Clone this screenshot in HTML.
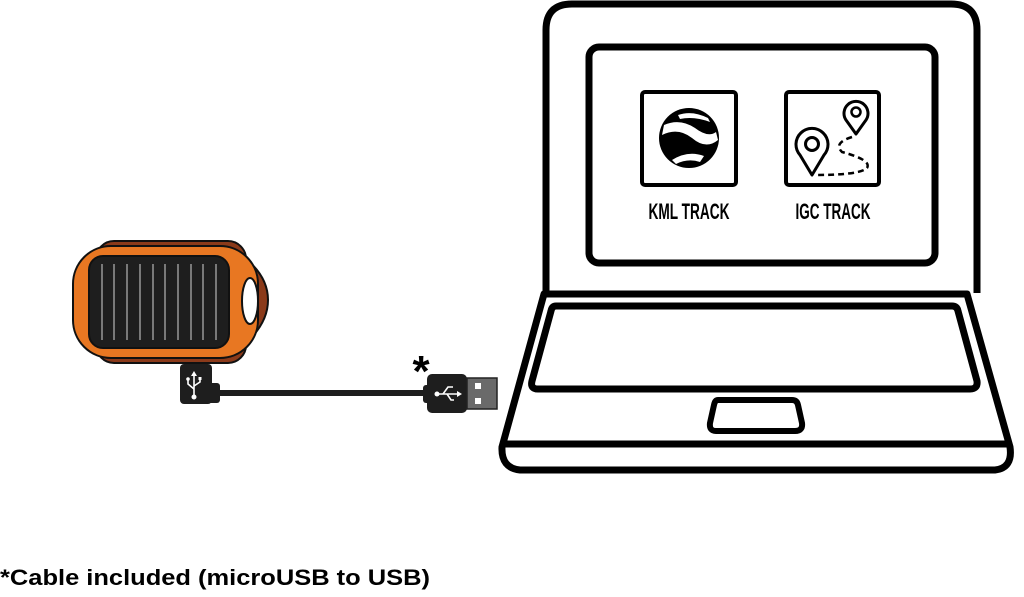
<!DOCTYPE html>
<html><head><meta charset="utf-8"><style>html,body{margin:0;padding:0;background:#fff}svg{display:block}</style></head>
<body>
<svg width="1024" height="597" viewBox="0 0 1024 597" xmlns="http://www.w3.org/2000/svg">
<path d="M546 293 V30 Q546 4 572 4 H951 Q977 4 977 30 V293" fill="none" stroke="#000" stroke-width="7"/>
<rect x="589" y="47" width="346" height="216" rx="10" fill="none" stroke="#000" stroke-width="7"/>
<path d="M544 294 H967 L1010 447 Q1013 468 995 470 H520 Q501 468 502 447 Z" fill="none" stroke="#000" stroke-width="7" stroke-linejoin="round"/>
<line x1="502" y1="444" x2="1010" y2="444" stroke="#000" stroke-width="7"/>
<path d="M556 306 H952 Q957 306 958 311 L977 381 Q978 389 970 389 H538 Q530 389 532 381 L551 311 Q552 306 556 306 Z" fill="none" stroke="#000" stroke-width="7" stroke-linejoin="round"/>
<path d="M718 400 H792 Q797 400 798 405 L802 423 Q803 431 795 431 H716 Q709 431 710 423 L714 405 Q715 400 718 400 Z" fill="none" stroke="#000" stroke-width="6" stroke-linejoin="round"/>
<rect x="642" y="92" width="94" height="93" rx="3" fill="none" stroke="#000" stroke-width="4"/>
<rect x="786" y="92" width="93" height="93" rx="3" fill="none" stroke="#000" stroke-width="4"/>
<circle cx="689" cy="138" r="30" fill="#000"/>
<path d="M664 125 Q680 118 695 128 Q708 138 716 132 L718 140 Q706 150 692 138 Q678 127 662 135 Z" fill="#fff"/>
<path d="M672 160 Q688 150 704 156 L700 162 Q688 158 676 164 Z" fill="#fff"/>
<path d="M678 115 Q692 110 708 118 L710 122 Q694 116 680 119 Z" fill="#fff"/>
<path d="M812 175 L800 155 A16 16 0 1 1 824 155 Z" fill="none" stroke="#000" stroke-width="3" stroke-linejoin="round"/>
<circle cx="812" cy="144" r="6.5" fill="none" stroke="#000" stroke-width="3"/>
<path d="M856 134 L846 120 A12 12 0 1 1 866 120 Z" fill="none" stroke="#000" stroke-width="3" stroke-linejoin="round"/>
<circle cx="856" cy="112" r="4.5" fill="none" stroke="#000" stroke-width="2.5"/>
<path d="M852 137 Q833 143 842 152 Q872 160 867 168 Q860 175 815 175" fill="none" stroke="#000" stroke-width="2.5" stroke-dasharray="6 4"/>
<text x="689" y="219" text-anchor="middle" font-family="Liberation Sans, sans-serif" font-weight="bold" font-size="22" textLength="81" lengthAdjust="spacingAndGlyphs">KML TRACK</text>
<text x="833" y="219" text-anchor="middle" font-family="Liberation Sans, sans-serif" font-weight="bold" font-size="22" textLength="75" lengthAdjust="spacingAndGlyphs">IGC TRACK</text>
<rect x="96" y="241" width="150" height="122" rx="18" fill="#8B3A1A" stroke="#111" stroke-width="2"/>
<path d="M230 248 Q268 270 268 300 Q268 330 230 355 Z" fill="#8B3A1A" stroke="#111" stroke-width="2"/>
<rect x="73" y="246" width="185" height="112" rx="38" fill="#E87722" stroke="#111" stroke-width="2"/>
<ellipse cx="250" cy="301" rx="8" ry="23" fill="#fff" stroke="#111" stroke-width="2"/>
<rect x="89" y="256" width="140" height="92" rx="14" fill="#1e1e1e" stroke="#111" stroke-width="2"/>
<g stroke="#aaa" stroke-width="1.3">
<line x1="102" y1="264" x2="102" y2="340"/><line x1="114" y1="264" x2="114" y2="340"/><line x1="127" y1="264" x2="127" y2="340"/><line x1="140" y1="264" x2="140" y2="340"/><line x1="153" y1="264" x2="153" y2="340"/><line x1="165" y1="264" x2="165" y2="340"/><line x1="178" y1="264" x2="178" y2="340"/><line x1="191" y1="264" x2="191" y2="340"/><line x1="203" y1="264" x2="203" y2="340"/><line x1="216" y1="264" x2="216" y2="340"/>
</g>
<line x1="215" y1="393" x2="430" y2="393" stroke="#1e1e1e" stroke-width="6"/>
<rect x="180" y="364" width="32" height="40" rx="4" fill="#1e1e1e"/>
<rect x="208" y="383" width="12" height="20" rx="3" fill="#1e1e1e"/>
<g stroke="#fff" stroke-width="1.6" fill="none"><line x1="194" y1="373" x2="194" y2="396"/><path d="M194 389 L188 384 V380"/><path d="M194 386 L200 382 V379"/></g>
<polygon points="194,371 191,376 197,376" fill="#fff"/><circle cx="194" cy="397" r="2.5" fill="#fff"/>
<circle cx="188" cy="379" r="1.8" fill="#fff"/><rect x="198.5" y="377" width="3" height="3" fill="#fff"/>
<rect x="423" y="385" width="8" height="18" rx="3" fill="#1e1e1e"/>
<rect x="427" y="374" width="40" height="39" rx="5" fill="#1e1e1e"/>
<rect x="467" y="378" width="30" height="31" fill="#6a6a6a" stroke="#222" stroke-width="1.5"/>
<rect x="475" y="383" width="6" height="6" fill="#fff"/>
<rect x="475" y="398" width="6" height="6" fill="#fff"/>
<g stroke="#fff" stroke-width="1.6" fill="none"><line x1="436" y1="394" x2="460" y2="394"/><path d="M443 394 L448 387 H453"/><path d="M447 394 L451 400 H454"/></g>
<circle cx="437" cy="394" r="2.5" fill="#fff"/><polygon points="462,394 457,391 457,397" fill="#fff"/>
<text x="421" y="386" text-anchor="middle" font-family="Liberation Sans, sans-serif" font-weight="bold" font-size="44">*</text>
<text x="0" y="585" font-family="Liberation Sans, sans-serif" font-weight="bold" font-size="22" textLength="430" lengthAdjust="spacingAndGlyphs">*Cable included (microUSB to USB)</text>
</svg>
</body></html>
